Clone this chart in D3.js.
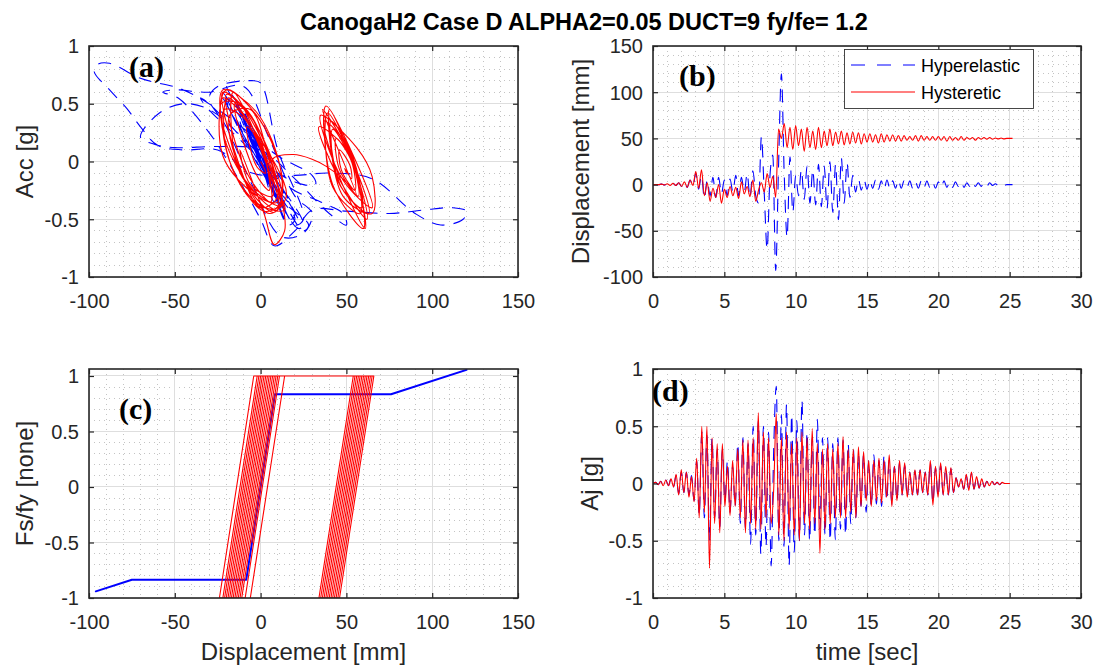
<!DOCTYPE html>
<html><head><meta charset="utf-8">
<script src="https://cdn.jsdelivr.net/npm/d3@7"></script>
<style>body{margin:0;background:#fff}</style>
</head><body>
<svg id="fig" width="1093" height="667"></svg>
<script>
// ---------------- DATA ----------------
const titleText = "CanogaH2 Case D ALPHA2=0.05 DUCT=9 fy/fe= 1.2";
const seriesNames = ["Hyperelastic", "Hysteretic"];
const dispTicks = [-100, -50, 0, 50, 100, 150];
const unitTicks = [-1, -0.5, 0, 0.5, 1];
const timeTicks = [0, 5, 10, 15, 20, 25, 30];
const dispTimeTicks = [-100, -50, 0, 50, 100, 150];

// (b) displacement time histories [mm], sampled every dtB seconds
const dtB = 0.2;
const dispHyst = [0,0,0,0.5,-0.5,1,-1,1.5,-1,2,
 -2,3,-3,5,-1,14,-4,16,-12,2,
 -18,-4,-14,0,-20,-5,-14,-2,-12,-3,
 -15,3,-10,-2,-13,5,-18,-6,2,-8,
 12,-3,9,-14,60,50,66,40,62,38,
 64,42,60,36,62,40,58,38,62,40,
 58,42,60,42,57,44,58,43,56,44,
 57,45,56,44,55,46,55,46,54,45,
 55,46,54,47,54,47,53,47,53,48,
 52,48,53,47,53,48,52,48,52,48,
 52,48,52,47,52,48,51,48,52,48,
 51,49,51,48,51,49,51,49,51,49,
 50.5,49.5,50.5,49.5,50,50,50];
const dispHyper = [0,0,0,0.5,-0.5,1,-1,1.5,-1,2,
 -2,3,-3,5,-2,12,-5,10,-15,5,
 -12,8,-14,8,-10,5,-12,6,-8,10,
 -12,8,-8,12,-14,15,-12,-20,52,-10,
 -70,10,32,-93,20,120,10,-57,30,-30,
 10,-12,16,-16,20,-20,16,-22,22,-24,
 20,-26,25,-30,22,-38,29,-20,24,-14,
 10,-8,6,-6,5,-5,5,-4,5,-5,
 4,-5,5,-4,4,-4,5,-4,4,-3,
 4,-4,3,-4,4,-3,4,-3,3,-4,
 3,-3,4,-3,3,-3,3,-2,3,-3,
 2,-2,3,-2,2,-2,2,-2,2,-1,
 1,-1,1,-1,0,0,0];

// (d) absolute acceleration time histories [g], sampled every dtD seconds
const dtD = 0.18;
const accHyst = [0,0.01,-0.01,0.02,-0.02,0.03,-0.02,0.04,-0.03,0.08,
 -0.1,0.12,-0.08,0.1,-0.12,0.06,-0.16,0.22,-0.3,0.5,
 -0.25,0.5,-0.74,0.4,-0.35,0.35,-0.43,0.35,-0.2,0.15,
 -0.28,0.2,-0.2,0.3,-0.3,0.38,-0.43,0.38,-0.35,0.4,
 -0.4,0.62,-0.4,0.45,-0.3,0.4,-0.35,-0.05,0.61,-0.45,
 0.4,-0.5,0.45,-0.4,0.35,-0.45,0.4,-0.5,0.45,-0.35,
 0.4,-0.4,0.48,-0.35,0.35,-0.61,0.3,-0.4,0.35,-0.35,
 0.3,-0.3,0.35,-0.3,0.41,-0.3,0.3,-0.25,0.3,-0.3,
 0.32,-0.2,0.28,-0.15,0.2,-0.2,0.2,-0.15,0.22,-0.17,
 0.2,-0.12,0.25,-0.2,0.15,-0.15,0.2,-0.1,0.18,-0.12,
 0.1,-0.1,0.12,-0.1,0.12,-0.08,0.1,-0.1,0.2,-0.19,
 0.15,-0.12,0.18,-0.1,0.15,-0.1,0.14,-0.08,0.05,-0.03,
 0.04,-0.05,0.08,-0.06,0.1,-0.05,0.06,-0.04,0.04,-0.03,
 0.02,-0.02,0.02,-0.01,0.01,-0.01,0.01,0,0,0];
const accHyper = [0,0.01,-0.01,0.02,-0.02,0.03,-0.02,0.04,-0.03,0.07,
 -0.09,0.1,-0.08,0.1,-0.1,0.07,-0.15,0.2,-0.28,0.45,
 -0.3,0.42,-0.5,0.4,-0.3,0.3,-0.38,0.3,-0.15,0.2,
 -0.25,0.15,-0.2,0.35,-0.35,0.4,-0.4,0.35,-0.53,0.5,
 -0.45,0.55,-0.62,0.5,-0.55,0.45,-0.72,0.3,0.85,-0.5,
 0.6,-0.55,0.69,-0.72,0.6,-0.6,0.55,-0.5,0.73,-0.45,
 0.45,-0.5,0.4,-0.45,0.56,-0.4,0.4,-0.45,0.4,-0.5,
 0.35,-0.49,0.4,-0.4,0.38,-0.45,0.35,-0.35,0.3,-0.3,
 0.25,-0.2,0.25,-0.25,0.2,-0.2,0.25,-0.18,0.2,-0.2,
 0.25,-0.15,0.2,-0.18,0.15,-0.15,0.18,-0.1,0.16,-0.12,
 0.1,-0.1,0.11,-0.1,0.12,-0.08,0.1,-0.1,0.18,-0.17,
 0.14,-0.12,0.16,-0.1,0.14,-0.1,0.13,-0.08,0.05,-0.03,
 0.04,-0.05,0.07,-0.06,0.09,-0.05,0.06,-0.04,0.04,-0.03,
 0.02,-0.02,0.02,-0.01,0.01,-0.01,0.01,0,0,0];

// (a) acceleration [g] vs displacement [mm] loops: [disp, acc]
const loopHyst = [[0,0],[3,-0.1],[-2,-0.05],[-8,0.3],[0,0.15],[5,-0.25],[-3,-0.1],
 [-15,0.5],[-4,0.35],[6,-0.35],[-8,-0.1],
 [-20,0.58],[-8,0.42],[10,-0.3],[0,-0.4],[-12,-0.05],
 [-22,0.6],[-6,0.4],[12,-0.35],[2,-0.43],[-18,0],
 [-21,0.45],[-10,0.38],[8,-0.2],[14,-0.42],[0,-0.38],[-16,-0.08],
 [-22,0.62],[-2,0.42],[12,-0.1],[10,-0.4],[-4,-0.35],[-20,0.1],
 [-19,0.55],[-5,0.3],[15,-0.3],[5,-0.45],[-10,-0.15],
 [-23,0.5],[-12,0.5],[4,0.1],[10,-0.35],[-2,-0.3],[-22,0.05],
 [-20,0.62],[0,0.35],[13,-0.2],[8,-0.44],[-8,-0.2],
 [-18,0.4],[-6,0.45],[6,-0.05],[12,-0.38],[-4,-0.25],[-21,0.2],
 [-22,0.55],[-3,0.25],[10,-0.42],[-12,-0.1],
 [-16,0.6],[-2,0.2],[7,-0.3],[-6,-0.2],
 [-12,0.1],[2,-0.45],[8,-0.72],[14,-0.6],[12,-0.3],[7,0.02],[19,0.06],[30,0.02],[38,-0.04],
 [50,-0.18],[56,-0.3],
 [36,0.45],[52,0.06],[62,-0.5],[45,-0.13],
 [34,0.3],[51,0.08],[60,-0.58],[42,-0.2],
 [38,0.48],[55,0.02],[65,-0.4],[48,-0.16],
 [35,0.4],[56,0.12],[65,-0.13],[65,-0.45],[48,-0.3],
 [40,0.45],[54,-0.02],[61,-0.58],[44,-0.06],
 [37,0.35],[51,0.12],[58,-0.45],[42,-0.22],
 [39,0.42],[56,-0.08],[63,-0.45],[47,-0.22],
 [41,0.35],[53,0.07],[59,-0.4],[45,-0.17],
 [42,0.28],[54,-0.03],[57,-0.3],[46,-0.07],
 [44,0.2],[53,0.0],[55,-0.25],[47,-0.07],
 [46,0.1],[52,-0.03],[53,-0.15],[49,-0.06],[50,-0.1]];
const loopHyper = [[0,0],[2,-0.05],[-1,0.05],[3,-0.1],[-2,0.1],[5,-0.2],[-5,0.2],[8,-0.3],[-10,0.35],[6,-0.2],
 [-12,0.45],[10,-0.35],[-8,0.25],[12,-0.4],[-14,0.5],[8,-0.3],[-12,0.4],[10,-0.25],[-8,0.35],[12,-0.4],
 [-10,0.45],[15,-0.45],[-15,0.55],[14,-0.5],[-12,0.45],[22,-0.5],[-20,0.65],[-5,0.3],[15,-0.2],[35,-0.35],
 [48,-0.45],[50,-0.55],[40,-0.45],[20,-0.15],[0,0.1],[-25,0.13],[-50,0.12],[-62,0.15],[-70,0.21],[-59,0.42],
 [-45,0.5],[-30,0.45],[-10,0.2],[10,-0.1],[25,-0.2],[32,-0.2],[30,-0.12],[10,0.05],[-20,0.4],[-45,0.62],
 [-70,0.72],[-88,0.85],[-95,0.84],[-97,0.78],[-88,0.62],[-78,0.46],[-70,0.3],[-60,0.14],[-45,0.1],[-25,0.1],
 [-5,-0.1],[20,-0.12],[40,-0.1],[65,-0.15],[90,-0.45],[105,-0.55],[118,-0.5],[120,-0.43],[112,-0.4],[95,-0.42],
 [75,-0.45],[50,-0.43],[30,-0.42],[20,-0.6],[8,-0.73],[0,-0.5],[-15,-0.1],[-30,0.25],[-48,0.55],[-57,0.6],
 [-50,0.62],[-30,0.6],[-10,0.65],[5,0.2],[20,-0.3],[30,-0.45],[25,-0.62],[12,-0.65],[-5,-0.2],[-20,0.3],
 [-30,0.55],[-25,0.65],[-5,0.7],[0,0.68],[10,0.1],[25,-0.5],[20,-0.55],[0,0.1],[-22,0.6],[-20,0.55],
 [5,-0.2],[20,-0.5],[16,-0.55],[-5,0.3],[-20,0.55],[-18,0.45],[10,-0.3],[28,-0.55],[25,-0.6],[0,0],
 [-30,0.5],[-35,0.55],[-32,0.48],[0,0],[25,-0.55],[22,-0.58],[-5,0.1],[-22,0.55],[-20,0.5],[5,-0.15],
 [20,-0.45],[18,-0.5],[0,0.05],[-12,0.35],[-10,0.4],[5,-0.1],[10,-0.3],[8,-0.35],[0,0],[-6,0.2],
 [-5,0.25],[3,-0.05],[5,-0.15],[4,-0.18],[0,0],[-3,0.1],[2,-0.05],[0,0]];

// (c) normalised restoring force vs displacement: [disp, Fs/fy]
const forceHyper = [[0,0],[8.35,0.835],[20,0.835],[8.35,0.835],[-8.35,-0.835],[-20,-0.835],[-8.35,-0.835],[8.35,0.835],
 [52,0.835],[8.35,0.835],[-8.35,-0.835],[-70,-0.835],[-8.35,-0.835],[8.35,0.835],[32,0.835],[8.35,0.835],
 [-8.35,-0.835],[-75,-0.835],[-96,-0.94],[-75,-0.835],[-8.35,-0.835],[8.35,0.835],[76,0.835],[120,1.055],
 [76,0.835],[8.35,0.835],[-8.35,-0.835],[-57,-0.835],[-8.35,-0.835],[8.35,0.835],[30,0.835],[8.35,0.835],
 [-8.35,-0.835],[-38,-0.835],[-8.35,-0.835],[0,0]];
const forceHyst = [[0,0],[4,0.4],[-3,-0.3],[6,0.6],[-5,-0.5],[10,1],[11,1],[-9,-1],[-12,-1],[8,1],
 [9,1],[-11,-1],[-14,-1],[6,1],[-14,-1],[-17,-1],[3,1],[5,1],[-15,-1],[-20,-1],
 [0,1],[1,1],[-19,-1],[-22,-1],[-2,1],[0,1],[-20,-1],[-24,-1],[-4,1],[-3,1],
 [-1,1],[-21,-1],[-22,-1],[-2,1],[2,1],[-18,-1],[2,1],[4,1],[-16,-1],[4,1],
 [7,1],[-13,-1],[-14,-1],[6,1],[14,1],[-6,-1],[14,1],[15,1],[65,1],[45,-1],
 [43,-1],[63,1],[64,1],[44,-1],[40,-1],[60,1],[62,1],[42,-1],[38,-1],[58,1],
 [66,1],[46,-1],[36,-1],[56,1],[60,1],[40,-1],[34,-1],[54,1],[58,1],[38,-1],
 [35,-1],[55,1],[61,1],[41,-1],[37,-1],[57,1],[63,1],[43,-1],[39,-1],[59,1],
 [62,1],[42,-1],[41,-1],[61,1],[55,0.4],[47,-0.4],[53,0.2],[49,-0.2],[51,0]];

// ---------------- DRAWING ----------------
const FONT = "'Liberation Sans', Arial, Helvetica, sans-serif";
const SERIF = "'Liberation Serif', 'Times New Roman', serif";
const INK = "#262626";
const BLUE = "#0000ff", RED = "#ff0000";
const DASH = "13,9";
const svg = d3.select("#fig");
svg.append("rect").attr("width", 1093).attr("height", 667).attr("fill", "#fff");
const fmt = d => String(d);

function drawPanel(o) {
  const xs = o.x, ys = o.y;
  const [L, R] = xs.range(), [B, T] = ys.range();
  const g = svg.append("g");
  const gm = g.append("g").attr("shape-rendering", "crispEdges");
  gm.selectAll(".mx").data(o.xMinor).join("line")
    .attr("x1", d => xs(d)).attr("x2", d => xs(d)).attr("y1", T).attr("y2", B)
    .attr("stroke", "#c4c4c4").attr("stroke-dasharray", "1 4");
  gm.selectAll(".my").data(o.yMinor).join("line")
    .attr("y1", d => ys(d)).attr("y2", d => ys(d)).attr("x1", L).attr("x2", R)
    .attr("stroke", "#c4c4c4").attr("stroke-dasharray", "1 4");
  const gM = g.append("g").attr("shape-rendering", "crispEdges");
  gM.selectAll(".gx").data(o.xTicks).join("line")
    .attr("x1", d => xs(d)).attr("x2", d => xs(d)).attr("y1", T).attr("y2", B)
    .attr("stroke", "#dedede");
  gM.selectAll(".gy").data(o.yTicks).join("line")
    .attr("y1", d => ys(d)).attr("y2", d => ys(d)).attr("x1", L).attr("x2", R)
    .attr("stroke", "#dedede");
  const clipId = "clip" + o.name;
  svg.append("clipPath").attr("id", clipId).append("rect")
    .attr("x", L).attr("y", T).attr("width", R - L).attr("height", B - T);
  const gd = g.append("g").attr("clip-path", `url(#${clipId})`);
  o.series.forEach(s => {
    gd.append("path").attr("d", s.path).attr("fill", "none")
      .attr("stroke", s.color).attr("stroke-width", s.width || 1.1)
      .attr("stroke-dasharray", s.dash || null).attr("stroke-linejoin", "round");
  });
  const tick = 5;
  const ax = (gen, tr, labels) => {
    const a = g.append("g").attr("transform", tr)
      .call(gen.tickSizeInner(-tick).tickSizeOuter(0).tickPadding(0)
        .tickFormat(labels ? fmt : () => ""));
    a.select(".domain").remove();
    a.selectAll("line").attr("stroke", INK).attr("stroke-width", 1.2);
    a.selectAll("text").attr("fill", INK).style("font-family", FONT).style("font-size", "20px");
    return a;
  };
  const xb = ax(d3.axisBottom(xs).tickValues(o.xTicks), `translate(0,${B})`, true);
  xb.selectAll("text").attr("dy", null).attr("y", 31);
  ax(d3.axisTop(xs).tickValues(o.xTicks), `translate(0,${T})`, false);
  const yl = ax(d3.axisLeft(ys).tickValues(o.yTicks), `translate(${L},0)`, true);
  yl.selectAll("text").attr("x", -10).attr("dy", "0.34em");
  ax(d3.axisRight(ys).tickValues(o.yTicks), `translate(${R},0)`, false);
  g.append("rect").attr("x", L).attr("y", T).attr("width", R - L).attr("height", B - T)
    .attr("fill", "none").attr("stroke", INK).attr("stroke-width", 1.6);
  g.append("text").attr("transform", `translate(${o.ylabX},${(T + B) / 2}) rotate(-90)`)
    .attr("text-anchor", "middle").attr("fill", INK)
    .style("font-family", FONT).style("font-size", "24px").text(o.ylabel);
  if (o.xlabel) {
    g.append("text").attr("x", (L + R) / 2).attr("y", 660).attr("text-anchor", "middle")
      .attr("fill", INK).style("font-family", FONT).style("font-size", "24px").text(o.xlabel);
  }
  g.append("text").attr("x", o.tag[1]).attr("y", o.tag[2])
    .style("font-family", SERIF).style("font-weight", "bold").style("font-size", "30px")
    .attr("fill", "#000").text(o.tag[0]);
  return g;
}

const xA = d3.scaleLinear().domain([-100, 150]).range([89, 518]);
const yA = d3.scaleLinear().domain([-1, 1]).range([277, 46]);
const xB = d3.scaleLinear().domain([0, 30]).range([653, 1081]);
const yB = d3.scaleLinear().domain([-100, 150]).range([277, 46]);
const xC = d3.scaleLinear().domain([-100, 150]).range([89, 518]);
const yC = d3.scaleLinear().domain([-1, 1.063]).range([598, 369]);
const xD = d3.scaleLinear().domain([0, 30]).range([653, 1081]);
const yD = d3.scaleLinear().domain([-1, 1]).range([598, 369]);

const loopLine = (xs, ys) => d3.line().x(d => xs(d[0])).y(d => ys(d[1])).curve(d3.curveCatmullRom.alpha(0.5));
const polyLine = (xs, ys) => d3.line().x(d => xs(d[0])).y(d => ys(d[1]));
const timeLine = (xs, ys, dt) => d3.line().x((d, i) => xs(i * dt)).y(d => ys(d)).curve(d3.curveMonotoneX);

drawPanel({
  name: "a", x: xA, y: yA, xTicks: dispTicks, yTicks: unitTicks,
  xMinor: xA.ticks(25), yMinor: yA.ticks(20),
  ylabel: "Acc [g]", ylabX: 33, tag: ["(a)", 129, 77],
  series: [
    { path: loopLine(xA, yA)(loopHyper), color: BLUE, dash: DASH, width: 1.1 },
    { path: loopLine(xA, yA)(loopHyst), color: RED, width: 1.1 }
  ]
});
drawPanel({
  name: "b", x: xB, y: yB, xTicks: timeTicks, yTicks: dispTimeTicks,
  xMinor: xB.ticks(30), yMinor: yB.ticks(25),
  ylabel: "Displacement [mm]", ylabX: 589, tag: ["(b)", 679, 86],
  series: [
    { path: timeLine(xB, yB, dtB)(dispHyper), color: BLUE, dash: DASH, width: 1.1 },
    { path: timeLine(xB, yB, dtB)(dispHyst), color: RED, width: 1.1 }
  ]
});
drawPanel({
  name: "c", x: xC, y: yC, xTicks: dispTicks, yTicks: unitTicks,
  xMinor: xC.ticks(25), yMinor: d3.range(-10, 11).map(v => v / 10),
  ylabel: "Fs/fy [none]", ylabX: 33, xlabel: "Displacement [mm]", tag: ["(c)", 119, 419],
  series: [
    { path: polyLine(xC, yC)(forceHyper), color: BLUE, width: 2 },
    { path: polyLine(xC, yC)(forceHyst), color: RED, width: 1.1 }
  ]
});
drawPanel({
  name: "d", x: xD, y: yD, xTicks: timeTicks, yTicks: unitTicks,
  xMinor: xD.ticks(30), yMinor: yD.ticks(20),
  ylabel: "Aj [g]", ylabX: 598, xlabel: "time [sec]", tag: ["(d)", 652, 401],
  series: [
    { path: timeLine(xD, yD, dtD)(accHyper), color: BLUE, dash: DASH, width: 1.1 },
    { path: timeLine(xD, yD, dtD)(accHyst), color: RED, width: 1.1 }
  ]
});

const lg = svg.append("g");
lg.append("rect").attr("x", 844.5).attr("y", 49.5).attr("width", 189).attr("height", 59)
  .attr("fill", "#fff").attr("stroke", "#333").attr("stroke-width", 0.9);
const legendItems = [{ name: seriesNames[0], color: BLUE, dash: DASH, y: 65 },
                     { name: seriesNames[1], color: RED, dash: null, y: 92 }];
legendItems.forEach(it => {
  lg.append("line").attr("x1", 851).attr("x2", 915).attr("y1", it.y).attr("y2", it.y)
    .attr("stroke", it.color).attr("stroke-width", 1.1).attr("stroke-dasharray", it.dash ? "14,12" : null);
  lg.append("text").attr("x", 921).attr("y", it.y + 7).attr("fill", "#000")
    .style("font-family", FONT).style("font-size", "18px").text(it.name);
});

svg.append("text").attr("x", 584).attr("y", 30).attr("text-anchor", "middle")
  .attr("fill", "#000").style("font-family", FONT).style("font-weight", "bold").style("font-size", "23.5px")
  .text(titleText);
</script>
</body></html>
